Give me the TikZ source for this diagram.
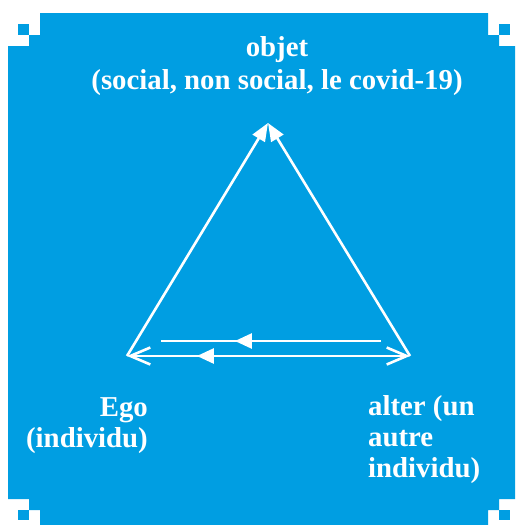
\documentclass[tikz,border=0pt]{standalone}
\usepackage{fontspec}
\setmainfont{Liberation Serif}
\usepackage{tikz}
\usetikzlibrary{arrows.meta, decorations.markings}
\usepackage{xcolor}
\definecolor{fondbleu}{RGB}{0,158,226}

\begin{document}
\begin{tikzpicture}[x=1pt, y=-1pt,
  trait/.style={white, line width=2.6pt},
  label/.style={white, inner sep=0pt, font=\bfseries\fontsize{28.8}{31}\selectfont},
  milieu/.style={postaction={decorate}, decoration={markings,
    mark=at position #1 with {\arrow{Triangle[length=17pt,width=15pt]}}}}]
\useasboundingbox (0,0) rectangle (515,525);
\fill[white] (0,0) rectangle (515,525);
\fill[fondbleu] (8,46) -- (29,46) -- (29,35) -- (40,35) -- (40,13) -- (488,13)
  -- (488,35) -- (499,35) -- (499,46) -- (515,46) -- (515,499) -- (499,499)
  -- (499,510) -- (488,510) -- (488,525) -- (40,525) -- (40,510) -- (29,510)
  -- (29,499) -- (8,499) -- cycle;
\fill[fondbleu] (18,24) rectangle (29,35);
\fill[fondbleu] (499,24) rectangle (510,35);
\fill[fondbleu] (18,510) rectangle (29,520);
\fill[fondbleu] (499,510) rectangle (510,520);
\coordinate (objet) at (268,123);
\coordinate (ego) at (127,356);
\coordinate (alter) at (410,356);
\coordinate (hautD) at (381,341);
\coordinate (hautG) at (161,341);
\draw[trait, -{Triangle[length=18pt,width=14pt]}] (ego) -- (objet);
\draw[trait, -{Triangle[length=18pt,width=14pt]}] (alter) -- (objet);
\draw[trait, {Straight Barb[length=20pt,width=17pt]}-{Straight Barb[length=20pt,width=17pt]}, milieu=0.753] (alter) -- (ego);
\draw[trait, milieu=0.664] (hautD) -- (hautG);
\node[label, align=center, anchor=base, font=\bfseries\fontsize{28.8}{33}\selectfont] (tobjet) at (277,89) {objet\\(social, non social, le covid-19)};
\node[label, align=right, anchor=base east] (tego) at (148,447) {Ego\\(individu)};
\node[label, align=left, anchor=base west] (talter) at (368,477) {alter (un\\autre\\individu)};
\end{tikzpicture}
\end{document}
